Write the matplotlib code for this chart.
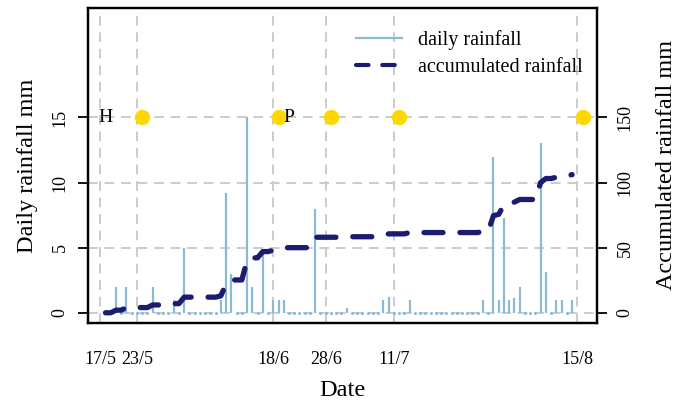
import numpy as np
import matplotlib.pyplot as plt

plt.rcParams['font.family'] = ['Liberation Serif', 'DejaVu Serif']

# daily rainfall, day index counted from the 17/5 line
rain_day = [3, 5, 10, 14, 16, 23, 24, 25, 28, 29, 31, 33, 34, 35, 41, 47,
            54, 55, 59, 73, 75, 76, 77, 78, 79, 80, 84, 85, 87, 88, 90]
rain_mm = [2.0, 2.0, 2.0, 1.0, 5.0, 1.0, 9.2, 3.0, 15.0, 2.0, 4.8, 1.0, 1.0, 1.0, 8.0, 0.4,
           1.0, 1.2, 1.0, 1.0, 12.0, 1.0, 7.3, 1.0, 1.1, 2.0, 13.0, 3.1, 1.0, 1.0, 1.0]
first_day, last_day = 1, 90

tick_day = [0, 7, 33, 43, 56, 91]
tick_lab = ['17/5', '23/5', '18/6', '28/6', '11/7', '15/8']

event_day = [8, 34, 44, 57, 92]
event_lvl = 15
notes = ['H', 'P']
note_day = [1, 36]

# full daily series and running total
days = np.arange(first_day, last_day + 1)
daily = np.zeros(len(days))
for d, v in zip(rain_day, rain_mm):
    daily[d - first_day] = v
accum = np.cumsum(daily)

fig = plt.figure(figsize=(6.87, 4.03), dpi=100)
ax = fig.add_axes([0.128, 0.199, 0.741, 0.781])
ax2 = ax.twinx()

grid_c = '#cbcbcb'
for y in [0, 5, 10, 15]:
    ax.axhline(y, color=grid_c, lw=1.4, ls=(0, (5, 3.5)), zorder=0)
for x in tick_day:
    ax.axvline(x, color=grid_c, lw=1.4, ls=(0, (5, 3.5)), zorder=0)

blue = '#8cb9d8'
ax.vlines(rain_day, 0, rain_mm, color=blue, lw=1.6, zorder=2)
ax.plot(days[daily == 0], daily[daily == 0], ls='none', marker='o', ms=1.2,
        color=blue, zorder=2)

navy = '#1b1b70'
ax2.plot(days, accum, color=navy, lw=3.8, ls=(0, (3.6, 3.2)),
         dash_capstyle='round', zorder=3)

ax.plot(event_day, [event_lvl] * len(event_day), ls='none', marker='o', ms=10,
        color='#ffd700', zorder=5, clip_on=False)
for t, d in zip(notes, note_day):
    ax.text(d, event_lvl, t, ha='center', va='center', fontsize=14, zorder=6)

ax.set_xlim(-2.35, 94.75)
ax.set_ylim(-0.77, 23.4)
ax2.set_ylim(-7.7, 234)

ax.set_xticks(tick_day, tick_lab)
ax.tick_params(axis='x', length=0, pad=20, labelsize=13)
ax.set_yticks([0, 5, 10, 15])
ax2.set_yticks([0, 50, 100, 150])
for a in (ax, ax2):
    a.tick_params(axis='y', direction='out', length=7, width=1.3, labelsize=13,
                  pad=7, labelrotation=90)
    for lab in a.get_yticklabels():
        lab.set_va('center')
    for s in a.spines.values():
        s.set_linewidth(1.6)

ax.set_xlabel('Date', fontsize=17.5, labelpad=9)
ax.set_ylabel('Daily rainfall mm', fontsize=17.5, labelpad=10)
ax2.set_ylabel('Accumulated rainfall mm', fontsize=17.5, labelpad=16)

h1, = ax.plot([], [], color=blue, lw=1.6)
h2, = ax.plot([], [], color=navy, lw=3, ls=(0, (3, 3.3)), dash_capstyle='round')
ax.legend([h1, h2], ['daily rainfall', 'accumulated rainfall'], loc='upper right',
          frameon=False, fontsize=14.5, handlelength=2.3, handletextpad=0.8,
          borderaxespad=0.3, labelspacing=0.4, bbox_to_anchor=(1.0, 0.975))

fig.savefig('out.png', dpi=100)
